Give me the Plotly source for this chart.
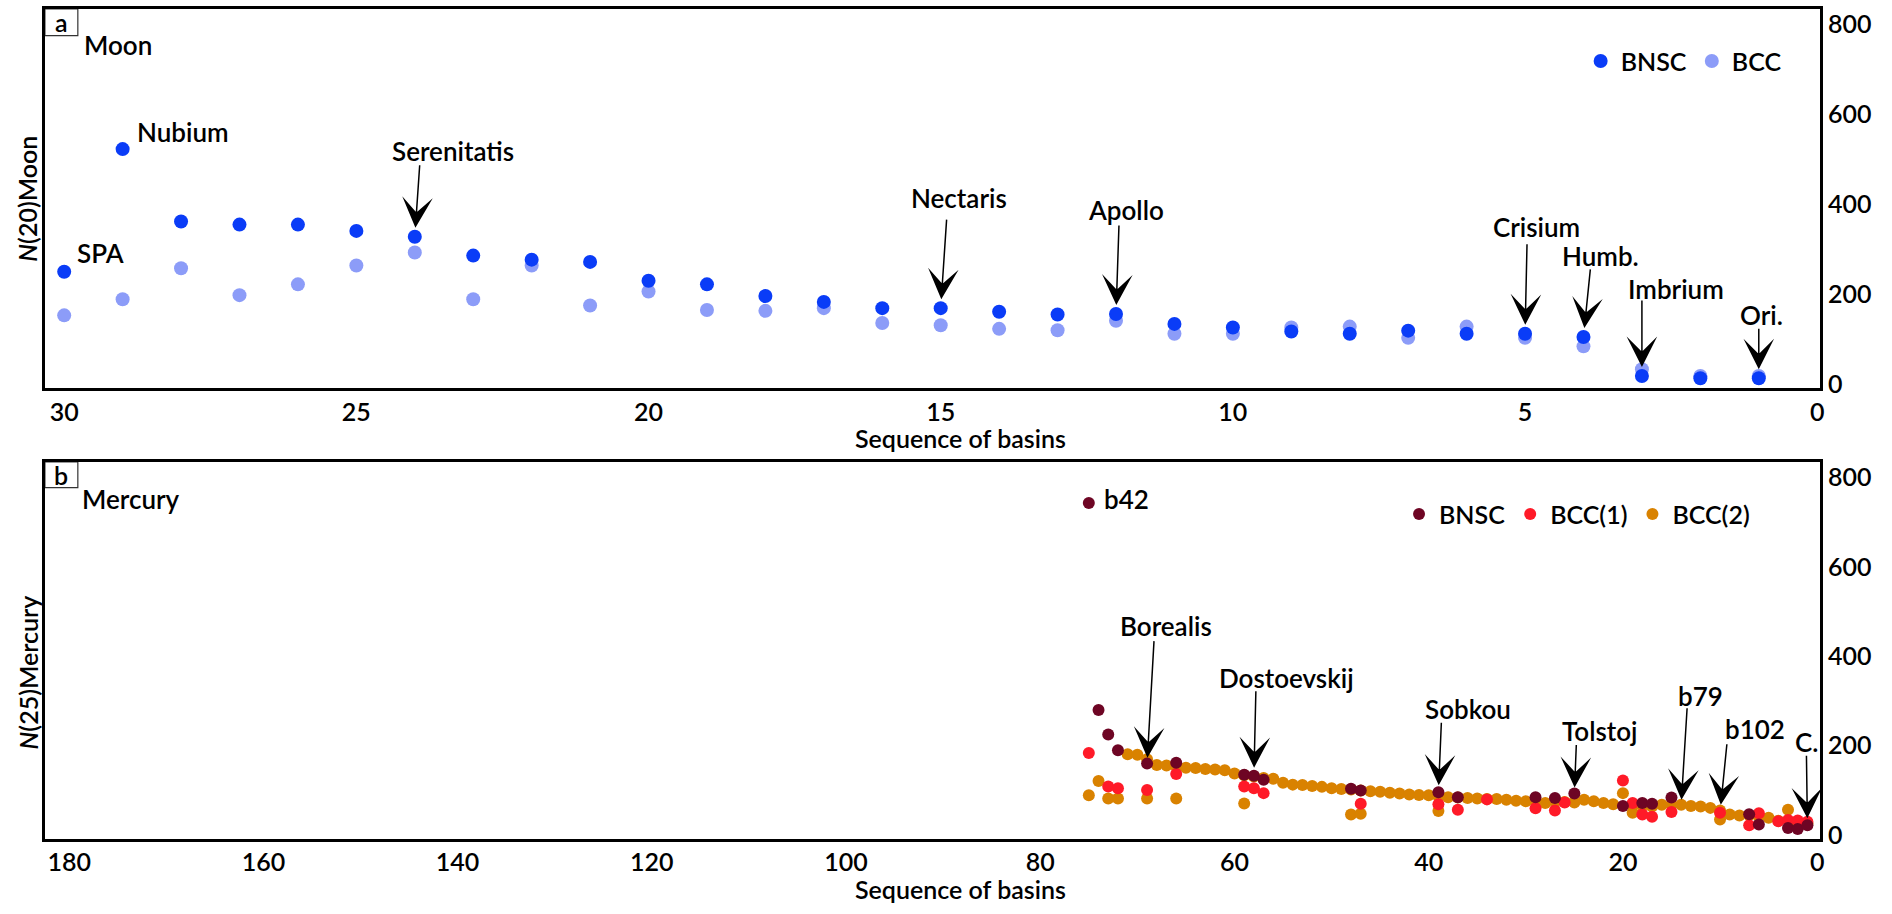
import plotly.graph_objects as go

# ---------------- data ----------------
moon_x = list(range(30, 0, -1))
moon_bnsc = [250, 523, 362, 355, 355, 341, 328, 286, 277, 272, 230, 222, 196, 183, 169, 169,
             161, 155, 156, 134, 126, 117, 112, 119, 112, 112, 105, 18, 13, 13]
moon_bcc = [153, 189, 258, 198, 222, 264, 293, 189, 264, 175, 206, 165, 163, 169, 136, 131,
            123, 120, 141, 112, 112, 126, 128, 103, 128, 103, 84, 33, 18, 18]

merc_bnsc_x = [75, 74, 73, 72, 69, 66, 59, 58, 57, 48, 47, 39, 37, 29, 27, 25, 20, 18, 17, 15, 7, 6, 3, 2, 1]
merc_bnsc_y = [743, 280, 225, 190, 160, 162, 135, 133, 124, 104, 100, 96, 85, 85, 83, 93, 65, 72, 70, 84,
               47, 24, 16, 14, 22]

merc_bcc1_x = [75, 73, 72, 69, 66, 59, 58, 57, 47, 39, 37, 34, 29, 27, 26, 20, 19, 18, 17, 15, 10, 7, 6, 4,
               3, 2, 1]
merc_bcc1_y = [184, 109, 105, 101, 137, 109, 105, 94, 70, 69, 57, 80, 60, 55, 73, 122, 72, 46, 41, 52, 50,
               22, 49, 31, 34, 33, 30]

merc_bcc2_x = [71, 70, 69, 68, 67, 66, 65, 64, 63, 62, 61, 60, 59, 58, 57, 56, 55, 54, 53, 52, 51, 50,
               49, 48, 47, 46, 45, 44, 43, 42, 41, 40, 39, 38, 37, 36, 35, 34, 33, 32, 31, 30, 29, 28,
               27, 26, 25, 24, 23, 22, 21, 20, 19, 18, 17, 16, 15, 14, 13, 12, 11, 10, 9, 8, 7, 6, 5,
               4, 3, 2, 1,
               75, 74, 73, 72, 69, 66, 59, 48, 47, 39, 19, 10]
merc_bcc2_y = [181, 180, 170, 157, 156, 153, 151, 150, 148, 147, 145, 138, 134, 131, 128, 126, 117, 113,
               112, 110, 108, 105, 103, 102, 100, 98, 97, 95, 93, 91, 90, 89, 87, 85, 84, 83, 82, 81,
               81, 79, 77, 76, 75, 72, 74, 74, 73, 79, 76, 72, 69, 94, 66, 65, 64, 68, 68, 68, 65, 64,
               61, 55, 46, 44, 45, 42, 39, 32, 57, 28, 26,
               89, 121, 82, 82, 82, 82, 71, 46, 48, 54, 50, 35]

moon_ticks = [30, 25, 20, 15, 10, 5, 0]
merc_ticks = [180, 160, 140, 120, 100, 80, 60, 40, 20, 0]
y_ticks = [0, 200, 400, 600, 800]

moon_arrows = [("Serenitatis", 24), ("Nectaris", 15), ("Apollo", 12), ("Crisium", 5),
               ("Humb.", 4), ("Imbrium", 3), ("Ori.", 1)]

# ---------------- styling ----------------
W, H = 1892, 914
FONT = "Lato, 'Noto Sans', sans-serif"
WT = 600
C_BNSC_M = "#0a3cf7"
C_BCC_M = "#8c9cf8"
C_BNSC_H = "#6e0524"
C_BCC1 = "#ff1a28"
C_BCC2 = "#d98200"


def PX(x):
    return x / W


def PY(y):
    return 1 - y / H


def F(size):
    return dict(family=FONT, size=size, color="black", weight=WT)


fig = go.Figure()

fig.add_trace(go.Scatter(x=moon_x, y=moon_bcc, mode="markers", name="BCC",
                         marker=dict(size=14, color=C_BCC_M), legend="legend", legendrank=2,
                         xaxis="x", yaxis="y"))
fig.add_trace(go.Scatter(x=moon_x, y=moon_bnsc, mode="markers", name="BNSC",
                         marker=dict(size=14, color=C_BNSC_M), legend="legend", legendrank=1,
                         xaxis="x", yaxis="y"))

fig.add_trace(go.Scatter(x=merc_bcc2_x, y=merc_bcc2_y, mode="markers", name="BCC(2)",
                         marker=dict(size=12, color=C_BCC2), legend="legend2", legendrank=3,
                         xaxis="x2", yaxis="y2"))
fig.add_trace(go.Scatter(x=merc_bcc1_x, y=merc_bcc1_y, mode="markers", name="BCC(1)",
                         marker=dict(size=12, color=C_BCC1), legend="legend2", legendrank=2,
                         xaxis="x2", yaxis="y2"))
fig.add_trace(go.Scatter(x=merc_bnsc_x, y=merc_bnsc_y, mode="markers", name="BNSC",
                         marker=dict(size=12, color=C_BNSC_H), legend="legend2", legendrank=1,
                         xaxis="x2", yaxis="y2"))

axis_common = dict(showline=True, linecolor="black", linewidth=2.5, mirror=True,
                   showgrid=False, zeroline=False, ticks="", tickfont=F(25))

fig.update_layout(
    width=W, height=H, autosize=False,
    margin=dict(l=0, r=0, t=0, b=0),
    paper_bgcolor="white", plot_bgcolor="white",
    font=F(25),
    xaxis=dict(domain=[PX(45), PX(1824)], range=[30.33, -0.05], tickvals=moon_ticks,
               anchor="y", ticklabelstandoff=1, **axis_common),
    yaxis=dict(domain=[PY(392), PY(9)], range=[-8, 835], tickvals=y_ticks, side="right",
               anchor="x", **axis_common),
    xaxis2=dict(domain=[PX(45), PX(1824)], range=[182.5, -0.31], tickvals=merc_ticks,
                anchor="y2", ticklabelstandoff=0, **axis_common),
    yaxis2=dict(domain=[PY(848), PY(467)], range=[-8, 835], tickvals=y_ticks, side="right",
                anchor="x2", **axis_common),
    legend=dict(orientation="h", x=PX(1584), y=PY(62), xanchor="left", yanchor="middle",
                font=F(25), bgcolor="rgba(0,0,0,0)"),
    legend2=dict(orientation="h", x=PX(1402), y=PY(520), xanchor="left", yanchor="middle",
                 font=F(25), bgcolor="rgba(0,0,0,0)"),
)

annotations = []


def text_ann(txt, left, cy, size=26, angle=0, xanchor="left", pad=1):
    annotations.append(dict(text=txt, x=PX(left), y=PY(cy), xref="paper", yref="paper",
                            xanchor=xanchor, yanchor="middle", showarrow=False, textangle=angle,
                            borderpad=pad, font=F(size)))


def arrow_ann(xv, yv, ax, ay, xref, yref, standoff=9):
    annotations.append(dict(text="", x=xv, y=yv, xref=xref, yref=yref, ax=ax, ay=ay,
                            showarrow=True, arrowhead=3, arrowsize=3.4, arrowwidth=1.5,
                            arrowcolor="black", standoff=standoff))


def lookup(xs, ys, xv):
    return ys[xs.index(xv)]


# panel a texts
text_ann("Moon", 82, 45)
text_ann("SPA", 75, 256)
text_ann("Nubium", 135, 133)
text_ann("Serenitatis", 391, 153)
text_ann("Nectaris", 911, 200)
text_ann("Apollo", 1088, 212)
text_ann("Crisium", 1494, 230)
text_ann("Humb.", 1563, 259)
text_ann("Imbrium", 1629, 292)
text_ann("Ori.", 1742, 318)
text_ann("Sequence of basins", 963, 443, size=25, xanchor="center")
text_ann("<i>N</i>(20)Moon", 27, 201, size=25, angle=-90, xanchor="center")

# panel a arrows
a_off = {"Serenitatis": (5, -73), "Nectaris": (6, -90), "Apollo": (3, -90), "Crisium": (2, -91),
         "Humb.": (7, -69), "Imbrium": (0, -77), "Ori.": (0, -51)}
for name, xv in moon_arrows:
    ax, ay = a_off[name]
    arrow_ann(xv, lookup(moon_x, moon_bnsc, xv), ax, ay, "x", "y")

# panel b texts
text_ann("Mercury", 80, 505)
text_ann("b42", 1104, 505)
text_ann("Borealis", 1120, 633)
text_ann("Dostoevskij", 1220, 685)
text_ann("Sobkou", 1426, 717)
text_ann("Tolstoj", 1563, 739)
text_ann("b79", 1680, 704)
text_ann("b102", 1727, 737)
text_ann("C.", 1797, 750)
text_ann("Sequence of basins", 963, 899, size=25, xanchor="center", pad=0)
text_ann("<i>N</i>(25)Mercury", 28, 680, size=25, angle=-90, xanchor="center")

# panel b arrows
arrow_ann(69, lookup(merc_bnsc_x, merc_bnsc_y, 69), 7, -124, "x2", "y2", 6)
arrow_ann(58, lookup(merc_bnsc_x, merc_bnsc_y, 58), 2, -86, "x2", "y2", 8)
arrow_ann(39, lookup(merc_bnsc_x, merc_bnsc_y, 39), 3, -71, "x2", "y2", 7)
arrow_ann(25, lookup(merc_bnsc_x, merc_bnsc_y, 25), 2, -50, "x2", "y2", 6)
arrow_ann(14, lookup(merc_bcc2_x, merc_bcc2_y, 14), 6, -98, "x2", "y2", 5)
arrow_ann(10, lookup(merc_bcc1_x, merc_bcc1_y, 10), 7, -70, "x2", "y2", 8)
arrow_ann(1, lookup(merc_bnsc_x, merc_bnsc_y, 1), -1, -71, "x2", "y2", 7)

# panel letters
text_ann("a", 61.5, 22, size=25, xanchor="center")
text_ann("b", 61.5, 480, size=25, xanchor="center")

fig.update_layout(annotations=annotations)

shapes = []
for (y0, y1) in [(9, 36), (467, 493)]:
    shapes.append(dict(type="rect", xref="paper", yref="paper", x0=PX(45), x1=PX(78),
                       y0=PY(y1), y1=PY(y0), line=dict(color="#333333", width=1.2),
                       fillcolor="white", layer="below"))
fig.update_layout(shapes=shapes)

fig.write_html("out.html")
